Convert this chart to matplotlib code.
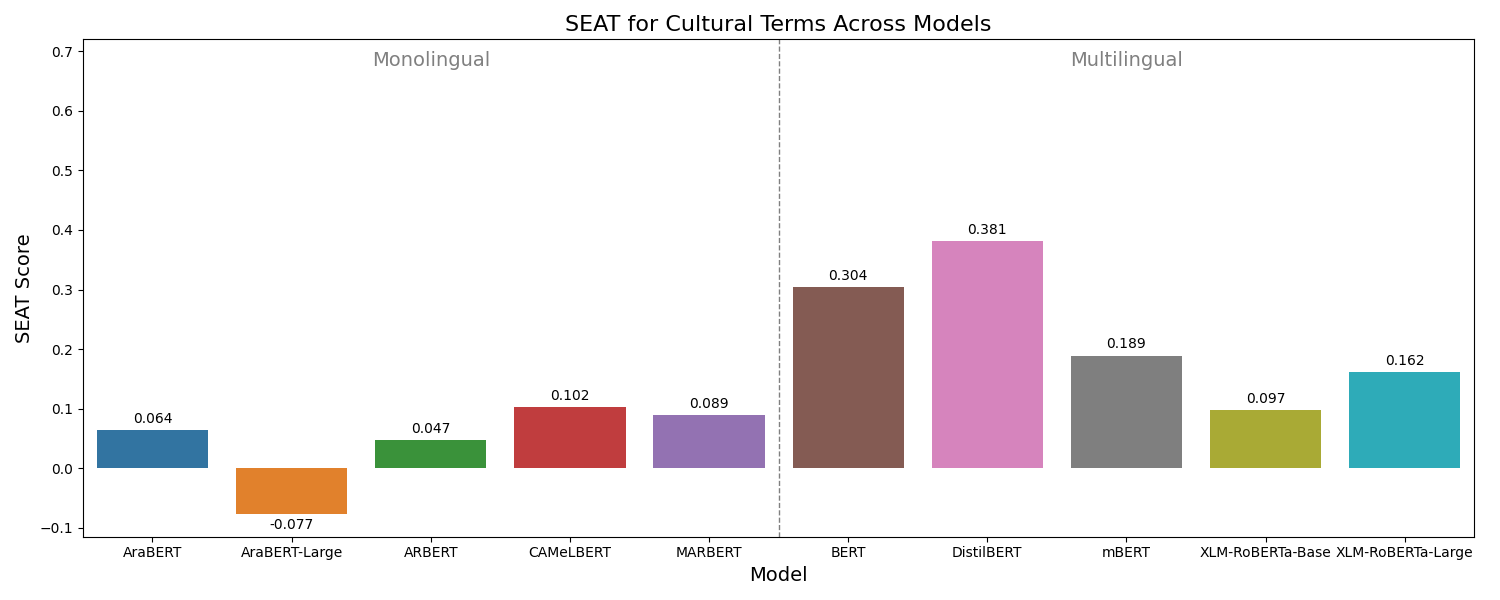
import matplotlib
matplotlib.use("Agg")
import matplotlib.pyplot as plt
import seaborn as sns
import pandas as pd

models = ["AraBERT", "AraBERT-Large", "ARBERT", "CAMeLBERT", "MARBERT",
          "BERT", "DistilBERT", "mBERT", "XLM-RoBERTa-Base", "XLM-RoBERTa-Large"]
scores = [0.064, -0.077, 0.047, 0.102, 0.089, 0.304, 0.381, 0.189, 0.097, 0.162]
groups = ["Monolingual", "Multilingual"]

df = pd.DataFrame({"Model": models, "SEAT Score": scores})

fig, ax = plt.subplots(figsize=(15, 6))
sns.barplot(data=df, x="Model", y="SEAT Score", hue="Model",
            palette="tab10", legend=False, ax=ax)

for c in ax.containers:
    ax.bar_label(c, fmt="%.3f", padding=3, fontsize=10)

ax.axvline(4.5, color="gray", linestyle="--", linewidth=1)
ax.set_ylim(-0.115, 0.72)
ax.text(2, 0.685, groups[0], ha="center", va="center", fontsize=14, color="gray")
ax.text(7, 0.685, groups[1], ha="center", va="center", fontsize=14, color="gray")

ax.set_title("SEAT for Cultural Terms Across Models", fontsize=16)
ax.set_xlabel("Model", fontsize=14)
ax.set_ylabel("SEAT Score", fontsize=14)

plt.tight_layout()
plt.savefig("out.png", dpi=100)
